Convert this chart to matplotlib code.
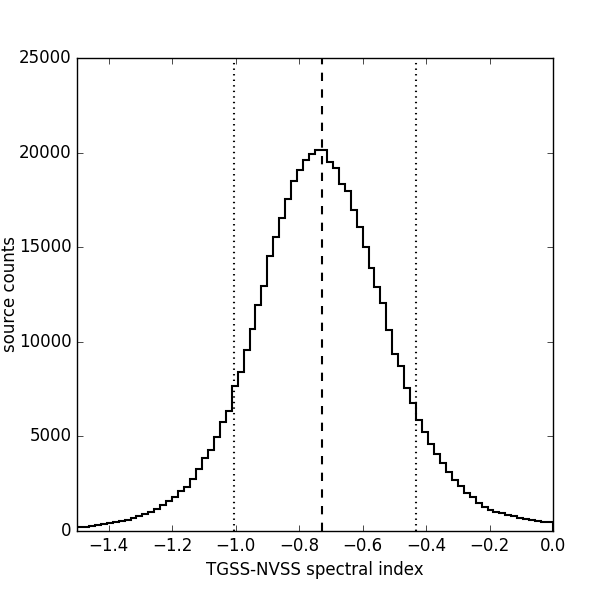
import numpy as np
import matplotlib
matplotlib.use('Agg')
from matplotlib import pyplot as plt

# histogram of spectral index, 80 bins over [-1.5, 0]
bin_edges = np.linspace( -1.5 , 0.0 , 81 )
counts = [ 194 , 230 , 265 , 300 , 353 , 406 , 459 , 530 , 600 , 706 ,
           777 , 900 , 990 , 1150 , 1360 , 1605 , 1785 , 2135 , 2347 , 2737 ,
           3300 , 3840 , 4254 , 4980 , 5737 , 6340 , 7680 , 8400 , 9560 , 10700 ,
           11930 , 12930 , 14550 , 15520 , 16560 , 17550 , 18490 , 19070 , 19620 , 19950 ,
           20130 , 20130 , 19480 , 19175 , 18320 , 17970 , 16960 , 16090 , 15030 , 13900 ,
           12890 , 12060 , 10630 , 9380 , 8740 , 7560 , 6760 , 5880 , 5210 , 4610 ,
           4060 , 3600 , 3140 , 2680 , 2400 , 1995 , 1770 , 1480 , 1290 , 1130 ,
           1024 , 935 , 848 , 777 , 706 , 636 , 583 , 530 , 493 , 477 ]

median_alpha = -0.727
lower_alpha = -1.005
upper_alpha = -0.431

plt.style.use( 'classic' )

fig = plt.figure( figsize = ( 6.13 , 5.93 ) , dpi = 100 , facecolor = 'white' )
ax = fig.add_axes( [ 0.1256 , 0.1046 , 0.7765 , 0.7976 ] )

centers = 0.5 * ( bin_edges[ 1: ] + bin_edges[ :-1 ] )
ax.hist( centers , bins = bin_edges , weights = counts , histtype = 'step' , color = 'k' , linewidth = 1.5 )

ax.axvline( median_alpha , color = 'k' , linestyle = '--' , linewidth = 1.5 )
ax.axvline( lower_alpha , color = 'k' , linestyle = ':' , linewidth = 1.5 )
ax.axvline( upper_alpha , color = 'k' , linestyle = ':' , linewidth = 1.5 )

ax.set_xlim( -1.5 , 0.0 )
ax.set_ylim( 0 , 25000 )
ax.set_xlabel( 'TGSS-NVSS spectral index' )
ax.set_ylabel( 'source counts' , labelpad = 0 )

fig.savefig( 'out.png' , dpi = 100 , facecolor = 'white' )
